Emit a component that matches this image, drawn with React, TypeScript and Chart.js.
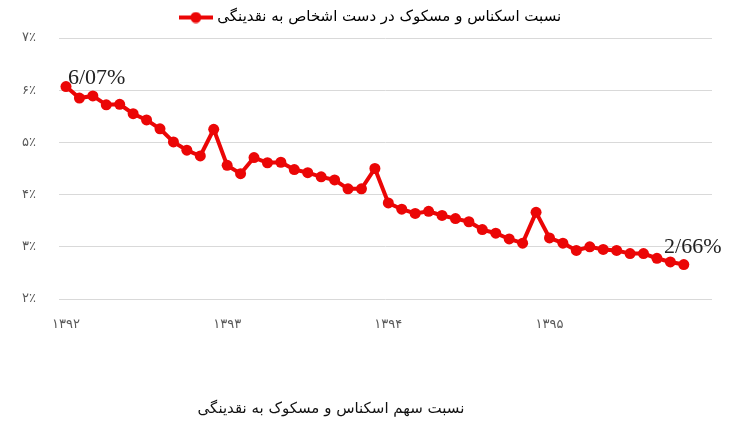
import React, { useEffect, useRef } from "react";
import { Chart, registerables } from "chart.js";

Chart.register(...registerables);

const seriesName = "نسبت اسکناس و مسکوک در دست اشخاص به نقدینگی";
const captionText = "نسبت سهم اسکناس و مسکوک به نقدینگی";
const yearLabels = ["۱۳۹۲", "۱۳۹۳", "۱۳۹۴", "۱۳۹۵"];
const yearTickIndex = [0, 12, 24, 36];
const yTickValues = [2, 3, 4, 5, 6, 7];
const yTickLabels = ["۲٪", "۳٪", "۴٪", "۵٪", "۶٪", "۷٪"];
const ratioValues = [
  6.07, 5.85, 5.89, 5.72, 5.73, 5.55, 5.43, 5.26, 5.01, 4.85, 4.74, 5.25,
  4.56, 4.4, 4.71, 4.61, 4.62, 4.48, 4.42, 4.34, 4.28, 4.11, 4.11, 4.5,
  3.84, 3.72, 3.64, 3.68, 3.6, 3.54, 3.48, 3.33, 3.26, 3.15, 3.07, 3.66,
  3.17, 3.07, 2.93, 3.0, 2.95, 2.93, 2.87, 2.87, 2.78, 2.71, 2.66,
];
const annotatedIndex = [0, 46];
const annotatedText = ["6/07%", "2/66%"];

const RED = "rgb(235, 6, 6)";
const PERSIAN_FONT = "'DejaVu Sans', sans-serif";

function makeLegendSymbol(): HTMLCanvasElement {
  const c = document.createElement("canvas");
  c.width = 34;
  c.height = 12;
  const g = c.getContext("2d")!;
  g.strokeStyle = RED;
  g.lineWidth = 4;
  g.beginPath();
  g.moveTo(0, 6);
  g.lineTo(34, 6);
  g.stroke();
  g.fillStyle = RED;
  g.beginPath();
  g.arc(17, 6, 5.5, 0, Math.PI * 2);
  g.fill();
  return c;
}

const pointLabelPlugin = {
  id: "pointLabelPlugin",
  afterDatasetsDraw(chart: any) {
    const meta = chart.getDatasetMeta(0);
    const ctx = chart.ctx;
    ctx.save();
    ctx.font = "22px 'Liberation Serif', serif";
    ctx.fillStyle = "#222";
    ctx.textBaseline = "alphabetic";
    annotatedIndex.forEach((idx, k) => {
      const el = meta.data[idx];
      if (!el) return;
      if (k === 0) {
        ctx.textAlign = "left";
        ctx.fillText(annotatedText[k], el.x + 2, el.y - 3);
      } else {
        ctx.textAlign = "center";
        ctx.fillText(annotatedText[k], el.x + 9, el.y - 12);
      }
    });
    ctx.restore();
  },
};

const legendMarginPlugin = {
  id: "legendMarginPlugin",
  beforeInit(chart: any) {
    const legend = chart.legend;
    if (!legend) return;
    const orig = legend.fit;
    legend.fit = function () {
      orig.call(this);
      this.height = 38;
    };
  },
  beforeDraw(chart: any) {
    const legend = chart.legend;
    if (!legend) return;
    legend.right = chart.chartArea.right - 28;
  },
};

export default function App() {
  const ref = useRef<HTMLCanvasElement | null>(null);

  useEffect(() => {
    if (!ref.current) return;
    const symbol = makeLegendSymbol();
    const chart = new Chart(ref.current, {
      type: "line",
      data: {
        datasets: [
          {
            label: seriesName,
            data: ratioValues.map((v, i) => ({ x: i, y: v })),
            borderColor: RED,
            backgroundColor: RED,
            borderWidth: 4,
            pointRadius: 5.5,
            pointBackgroundColor: RED,
            pointBorderColor: RED,
            pointBorderWidth: 0,
            tension: 0,
          },
        ],
      },
      options: {
        animation: false,
        responsive: false,
        maintainAspectRatio: false,
        layout: { padding: { left: 0, right: 21, top: 0, bottom: 0 } },
        plugins: {
          tooltip: { enabled: false },
          title: { display: false },
          legend: {
            display: true,
            position: "top",
            align: "center",
            fullSize: false,
            labels: {
              usePointStyle: true,
              pointStyleWidth: 28,
              boxHeight: 12,
              padding: 10,
              color: "#111",
              font: { family: PERSIAN_FONT, size: 15 },
              textDirection: "rtl",
              generateLabels: () => [
                {
                  text: seriesName,
                  pointStyle: symbol,
                  fillStyle: RED,
                  strokeStyle: RED,
                  lineWidth: 0,
                  hidden: false,
                  datasetIndex: 0,
                } as any,
              ],
            },
          } as any,
        },
        scales: {
          x: {
            type: "linear",
            min: -0.52,
            max: 48.1,
            grid: { display: false, drawTicks: false },
            border: { display: false },
            afterBuildTicks: (scale: any) => {
              scale.ticks = yearTickIndex.map((v) => ({ value: v }));
            },
            afterFit: (scale: any) => {
              scale.height = 122;
            },
            ticks: {
              padding: 18,
              maxRotation: 0,
              autoSkip: false,
              color: "#595959",
              font: { family: PERSIAN_FONT, size: 13 },
              callback: (value: any) => {
                const k = yearTickIndex.indexOf(Number(value));
                return k >= 0 ? yearLabels[k] : "";
              },
            },
          },
          y: {
            type: "linear",
            min: 2,
            max: 7,
            grid: { color: "#d9d9d9", lineWidth: 1, drawTicks: false },
            border: { display: false },
            afterBuildTicks: (scale: any) => {
              scale.ticks = yTickValues.map((v) => ({ value: v }));
            },
            afterFit: (scale: any) => {
              scale.width = 59;
            },
            ticks: {
              padding: 23,
              color: "#595959",
              font: { family: PERSIAN_FONT, size: 13 },
              callback: (value: any) => {
                const k = yTickValues.indexOf(Number(value));
                return k >= 0 ? yTickLabels[k] : "";
              },
            },
          },
        },
      },
      plugins: [pointLabelPlugin, legendMarginPlugin],
    });
    return () => chart.destroy();
  }, []);

  return (
    <div
      style={{
        position: "fixed",
        left: 0,
        top: 0,
        width: 733,
        height: 421,
        background: "#fff",
      }}
    >
      <canvas ref={ref} width={733} height={421} style={{ display: "block" }} />
      <div
        style={{
          position: "absolute",
          left: 0,
          top: 398,
          width: 662,
          textAlign: "center",
          direction: "rtl",
          fontFamily: PERSIAN_FONT,
          fontSize: 15,
          lineHeight: "20px",
          color: "#111",
        }}
      >
        {captionText}
      </div>
    </div>
  );
}
